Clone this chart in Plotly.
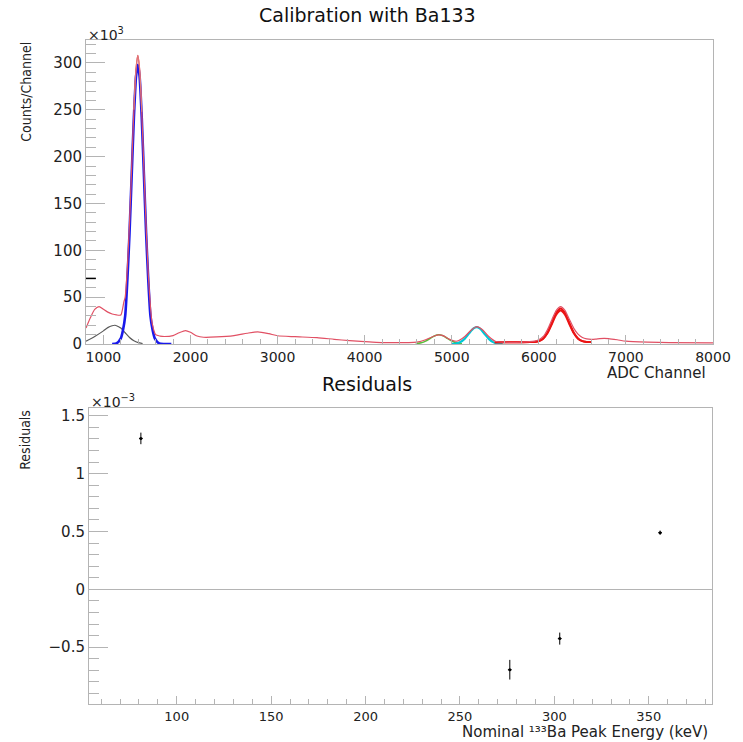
import plotly.graph_objects as go

# ---------------- data ----------------
# Measured ADC spectrum (counts/channel, in units of 10^3)
spec_x = [800, 850, 900, 950, 1000, 1050, 1100, 1150, 1200, 1235, 1250, 1275, 1300, 1325,
          1350, 1375, 1395, 1415, 1440, 1465, 1490, 1515, 1540, 1560, 1600, 1650, 1700,
          1800, 1870, 1942, 2000, 2075, 2150, 2300, 2500, 2650, 2773, 2900, 3000, 3200,
          3453, 3650, 3827, 4000, 4133, 4300, 4507, 4600, 4700, 4800, 4851, 4900, 4975,
          5059, 5150, 5225, 5286, 5350, 5425, 5500, 5600, 5800, 5950, 6000, 6050, 6100,
          6150, 6200, 6250, 6300, 6350, 6400, 6450, 6500, 6550, 6600, 6650, 6700, 6750,
          6800, 6900, 7000, 7250, 7500, 8000]
spec_y = [17, 28, 37, 40, 37, 34, 32, 31, 31, 45, 50, 82, 130, 190,
          250, 294, 308, 294, 248, 187, 126, 75, 40, 22, 10, 8.5, 8,
          9, 12, 14.3, 12.5, 8.5, 7.2, 7.5, 9, 11.5, 13, 11, 8.8, 7.8,
          6.8, 5, 3.6, 2.5, 1.8, 1.5, 1.4, 2, 4.5, 8.5, 9.8, 9, 5,
          3, 8, 15, 18.5, 15.5, 8, 3, 2, 2, 3, 4.5, 8, 15.5,
          26, 36, 40, 36, 26.5, 17, 10.5, 7, 5.5, 5, 5.2, 5.8, 6,
          5.8, 4.5, 3, 2, 1.5, 1.2]

# Low-energy background peak fit (dark grey)
bkg_x = [800, 900, 1000, 1050, 1100, 1133, 1175, 1200, 1250, 1300, 1350, 1400, 1450]
bkg_y = [3, 8, 14, 17.5, 19.5, 20, 18.5, 17, 12, 7, 3.5, 1.5, 0.5]

# 81 keV peak fit (blue)
blue_x = [1100, 1150, 1200, 1225, 1250, 1275, 1300, 1325, 1350, 1375, 1395, 1415, 1440,
          1465, 1490, 1515, 1540, 1565, 1590, 1640, 1700, 1780]
blue_y = [0.04, 0.65, 6.1, 15, 30, 68.6, 118.7, 181, 242, 286, 298, 286, 242,
          181, 118.7, 68.6, 30, 15, 6.1, 0.65, 0.03, 0]

# 276 keV peak fit (green)
green_x = [4587, 4650, 4700, 4750, 4800, 4851, 4900, 4950, 5000, 5050, 5117]
green_y = [0.3, 1.3, 3.1, 5.9, 8.6, 9.8, 8.7, 6.0, 3.2, 1.35, 0.28]

# 303 keV peak fit (cyan)
cyan_x = [5003, 5050, 5100, 5150, 5200, 5250, 5286, 5325, 5375, 5425, 5475, 5525, 5585]
cyan_y = [0.13, 0.58, 2.1, 5.7, 11.4, 16.6, 18.0, 16.4, 11.0, 5.5, 2.0, 0.5, 0.07]

# 356 keV peak fits (red)
redfit_x = [5494, 5600, 5750, 5900, 5950, 6000, 6050, 6100, 6150, 6200, 6250, 6300,
            6350, 6400, 6450, 6500, 6550, 6600]
redfitA_y = [2.0, 2.0, 2.0, 2.04, 2.25, 3.1, 5.9, 12.3, 22.7, 33.4, 38.0, 33.4,
             22.7, 12.3, 5.9, 3.1, 2.25, 2.04]
redfitB_y = [2.0, 2.0, 2.0, 2.04, 2.2, 3.06, 5.7, 11.7, 21.4, 31.4, 35.7, 31.4,
             21.4, 11.7, 5.7, 3.06, 2.2, 2.04]

dark_tick_y = [70]

# Residuals (units of 10^-3)
energy_keV = [80.9979, 276.3989, 302.8508, 356.0129]
residual_e3 = [1.305, -0.695, -0.426, 0.49]
residual_err_e3 = [0.05, 0.085, 0.052, 0.018]
energy_err = [1.0, 1.0, 1.0, 1.0]

# ---------------- figure ----------------
W, H = 743, 742
ML, MR, MT, MB = 86, 22, 40, 38
PW, PH = W - ML - MR, H - MT - MB


def px(xp):
    return (xp - ML) / PW


def py(yp):
    return (H - MB - yp) / PH


FRAME = "#b4b4b4"
FONT = "DejaVu Sans"
NARROW = "Liberation Sans Narrow, DejaVu Sans Condensed, Liberation Sans"

fig = go.Figure()

line_traces = [
    (spec_x, spec_y, "rgb(225,80,100)", 1.2),
    (bkg_x, bkg_y, "rgb(90,90,90)", 1.2),
    (blue_x, blue_y, "rgb(25,25,235)", 2.6),
    (green_x, green_y, "rgb(90,190,60)", 1.6),
    (cyan_x, cyan_y, "rgb(0,200,215)", 2.2),
    (redfit_x, redfitA_y, "rgb(235,20,20)", 2.0),
    (redfit_x, redfitB_y, "rgb(235,20,20)", 2.0),
]
order = [1, 2, 3, 4, 5, 6, 0]
for i in order:
    xs, ys, col, w = line_traces[i]
    fig.add_trace(go.Scatter(x=xs, y=ys, mode="lines",
                             line=dict(color=col, width=w, shape="spline", smoothing=0.6),
                             xaxis="x", yaxis="y", showlegend=False, hoverinfo="skip"))
# thin data line drawn again over the blue fit near the peak tip
fig.add_trace(go.Scatter(x=spec_x[14:19], y=spec_y[14:19], mode="lines",
                         line=dict(color="rgb(225,120,120)", width=1.2, shape="spline"),
                         xaxis="x", yaxis="y", showlegend=False, hoverinfo="skip"))

fig.add_trace(go.Scatter(
    x=energy_keV, y=residual_e3, mode="markers",
    marker=dict(color="black", size=3),
    error_y=dict(type="data", array=residual_err_e3, color="black", thickness=1, width=0),
    error_x=dict(type="data", array=energy_err, color="black", thickness=1, width=0),
    xaxis="x2", yaxis="y2", showlegend=False))

for yv in dark_tick_y:
    fig.add_shape(type="line", xref="x domain", yref="y", x0=0, x1=10 / PW,
                  y0=yv, y1=yv, line=dict(color="black", width=1.5))

common_axis = dict(showline=True, linecolor=FRAME, linewidth=1, mirror=True,
                   showgrid=False, ticks="inside", tickcolor=FRAME)

fig.update_layout(
    width=W, height=H, margin=dict(l=ML, r=MR, t=MT, b=MB),
    paper_bgcolor="white", plot_bgcolor="white",
    xaxis=dict(domain=[0, 1], anchor="y", range=[800, 8000], dtick=1000, tick0=0,
               ticklen=9, zeroline=False,
               tickfont=dict(family=FONT, size=14, color="#222"),
               minor=dict(ticks="inside", ticklen=5, dtick=200, tickcolor=FRAME),
               **common_axis),
    yaxis=dict(domain=[py(344), 1], anchor="x", range=[0, 324.5], dtick=50, tick0=0,
               ticklen=19, zeroline=False,
               tickfont=dict(family=FONT, size=15, color="#222"),
               minor=dict(ticks="inside", ticklen=10, dtick=10, tickcolor=FRAME),
               **common_axis),
    xaxis2=dict(domain=[px(89), px(720)], anchor="y2", range=[53.5, 383.5], dtick=50,
                tick0=0, ticklen=8, zeroline=False,
                tickfont=dict(family=FONT, size=13, color="#222"),
                minor=dict(ticks="inside", ticklen=5, dtick=10, tickcolor=FRAME),
                **common_axis),
    yaxis2=dict(domain=[0, py(408)], anchor="x2", range=[-0.9915, 1.568], dtick=0.5,
                tick0=0, ticklen=19, zeroline=True, zerolinecolor=FRAME, zerolinewidth=1,
                tickfont=dict(family=FONT, size=15, color="#222"),
                minor=dict(ticks="inside", ticklen=10, dtick=0.1, tickcolor=FRAME),
                **common_axis),
)

ann = [
    dict(text="Calibration with Ba133", x=px(371), y=py(15), xanchor="center",
         yanchor="middle", font=dict(family=FONT, size=19, color="#111")),
    dict(text="Residuals", x=px(371), y=py(384), xanchor="center", yanchor="middle",
         font=dict(family=FONT, size=19, color="#111")),
    dict(text="×10<sup>3</sup>", x=px(86), y=py(34), xanchor="left", yanchor="middle",
         font=dict(family=FONT, size=14, color="#222")),
    dict(text="×10<sup>−3</sup>", x=px(89), y=py(401), xanchor="left", yanchor="middle",
         font=dict(family=FONT, size=14, color="#222")),
    dict(text="ADC Channel", x=px(716), y=py(373), xanchor="right", yanchor="middle",
         font=dict(family=FONT, size=15, color="#222")),
    dict(text="Nominal ¹³³Ba Peak Energy (keV)", x=px(718), y=py(743),
         xanchor="right", yanchor="bottom", font=dict(family=FONT, size=15, color="#222")),
    dict(text="Counts/Channel", x=px(25), y=py(40), xanchor="center", yanchor="top",
         textangle=-90, font=dict(family=NARROW, size=14, color="#222")),
    dict(text="Residuals", x=px(24), y=py(408), xanchor="center", yanchor="top",
         textangle=-90, font=dict(family=NARROW, size=14, color="#222")),
]
for a in ann:
    a.update(xref="paper", yref="paper", showarrow=False)
fig.update_layout(annotations=ann)

fig.write_html("out.html")
